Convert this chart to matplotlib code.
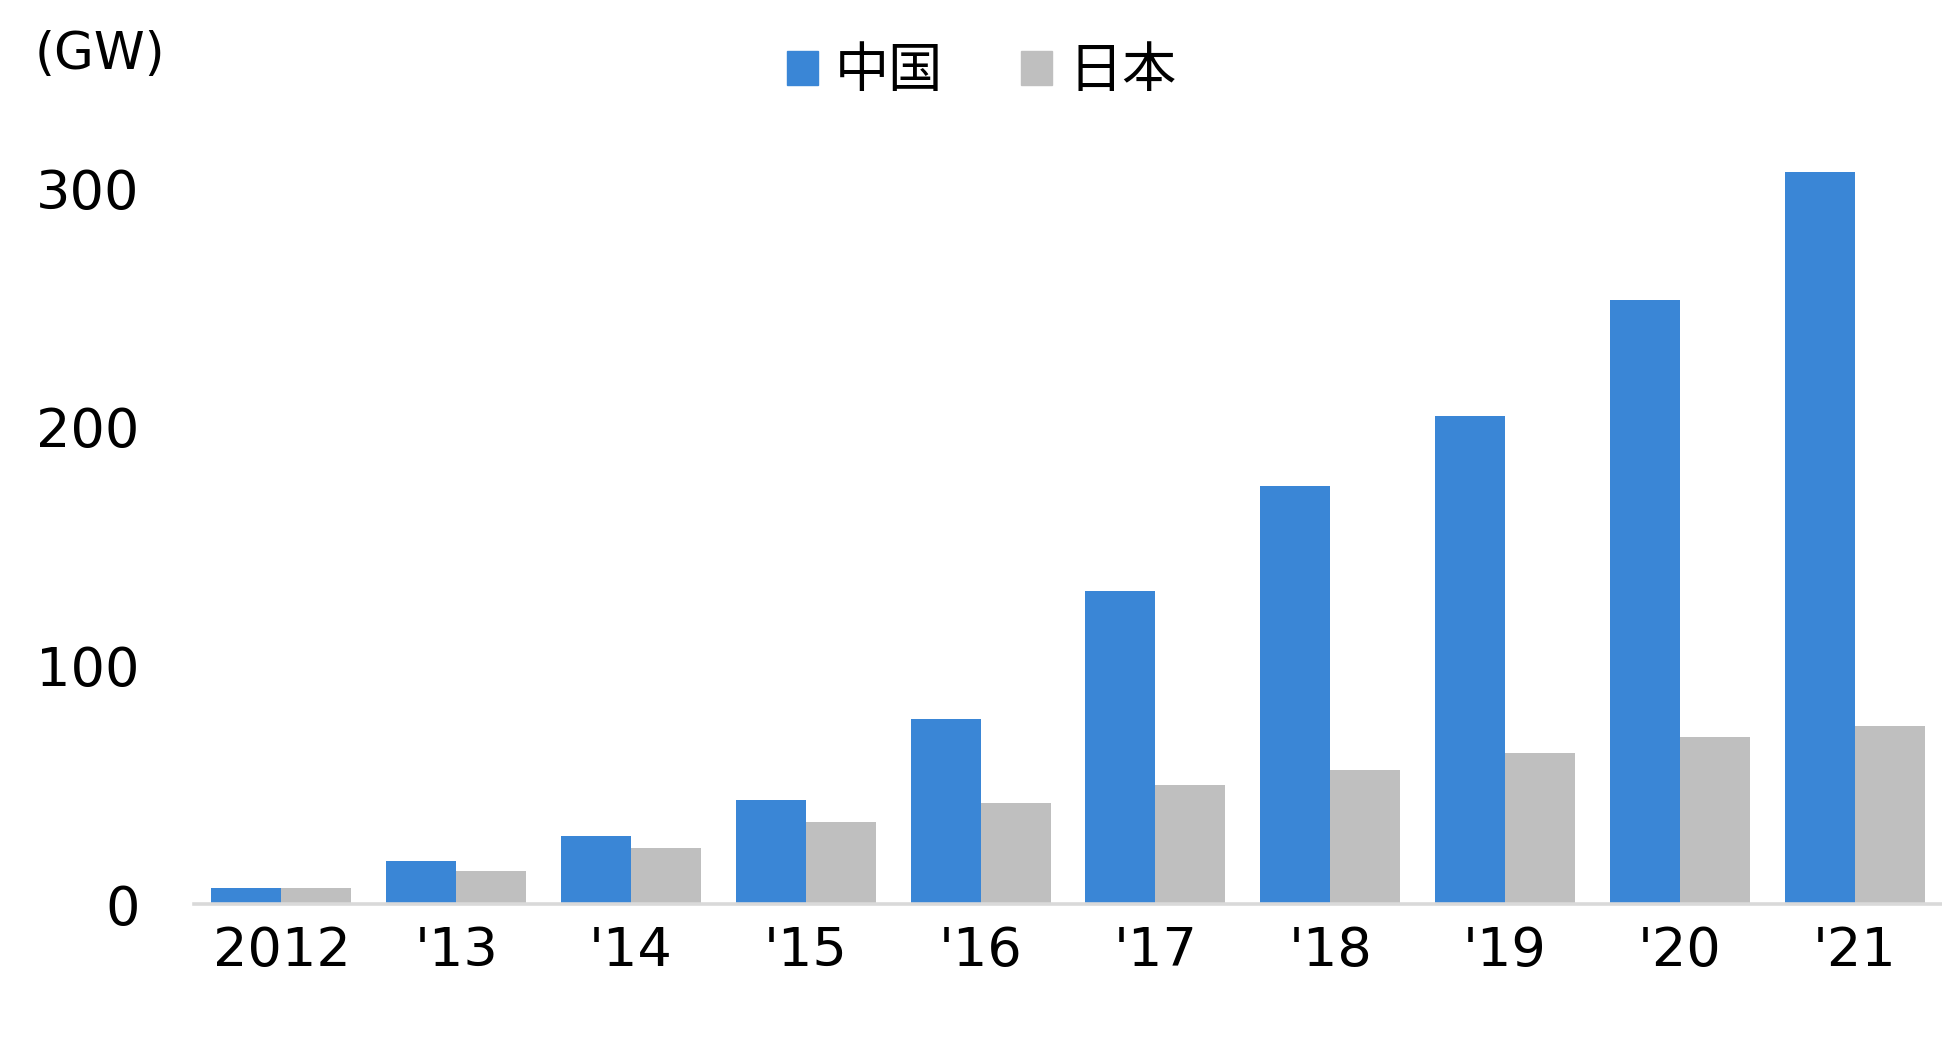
import numpy as np
import matplotlib.pyplot as plt
from matplotlib.patches import Patch

plt.rcParams['font.family'] = ['DejaVu Sans', 'Noto Sans CJK JP']

years = ['2012', "'13", "'14", "'15", "'16", "'17", "'18", "'19", "'20", "'21"]
china = [6.7, 18, 28.5, 43.5, 77.5, 131, 175, 204.5, 253, 306.5]
japan = [6.7, 14, 23.3, 34.2, 42.5, 49.7, 56, 63.2, 70, 74.6]
series_names = ['中国', '日本']

blue = '#3A86D6'
gray = '#BFBFBF'
fs = 39

fig = plt.figure(figsize=(19.42, 10.38), dpi=100)
# baseline at y=904px, 300 at y=188px
y0 = 1 - 904 / 1038
per = (904 - 188) / 1038 / 300
ymax = 335
ax = fig.add_axes([194 / 1942, y0, 1 - 194 / 1942, per * ymax])

x = np.arange(len(years))
w = 0.4
ax.bar(x - w / 2, china, width=w, color=blue, align='center')
ax.bar(x + w / 2, japan, width=w, color=gray, align='center')

ax.set_xlim(-0.5, len(years) - 0.5)
ax.set_ylim(0, ymax)
ax.set_yticks([0, 100, 200, 300])
ax.set_xticks(x)
ax.set_xticklabels(years)
ax.tick_params(axis='both', length=0, labelsize=fs)
ax.tick_params(axis='y', pad=39)
ax.tick_params(axis='x', pad=15)

for s in ['top', 'right', 'left']:
    ax.spines[s].set_visible(False)
ax.spines['bottom'].set_color('#D9D9D9')
ax.spines['bottom'].set_linewidth(2.6)

fig.text(35 / 1942, 1 - 55 / 1038, '(GW)', fontsize=37, ha='left', va='center')

handles = [Patch(color=blue), Patch(color=gray)]
fig.legend(handles, series_names, loc='center', bbox_to_anchor=(982 / 1942, 1 - 72 / 1038),
           ncol=2, frameon=False, fontsize=fs, handlelength=0.57, handleheight=0.57,
           handletextpad=0.3, columnspacing=1.45)

fig.savefig('out.png', dpi=100)
